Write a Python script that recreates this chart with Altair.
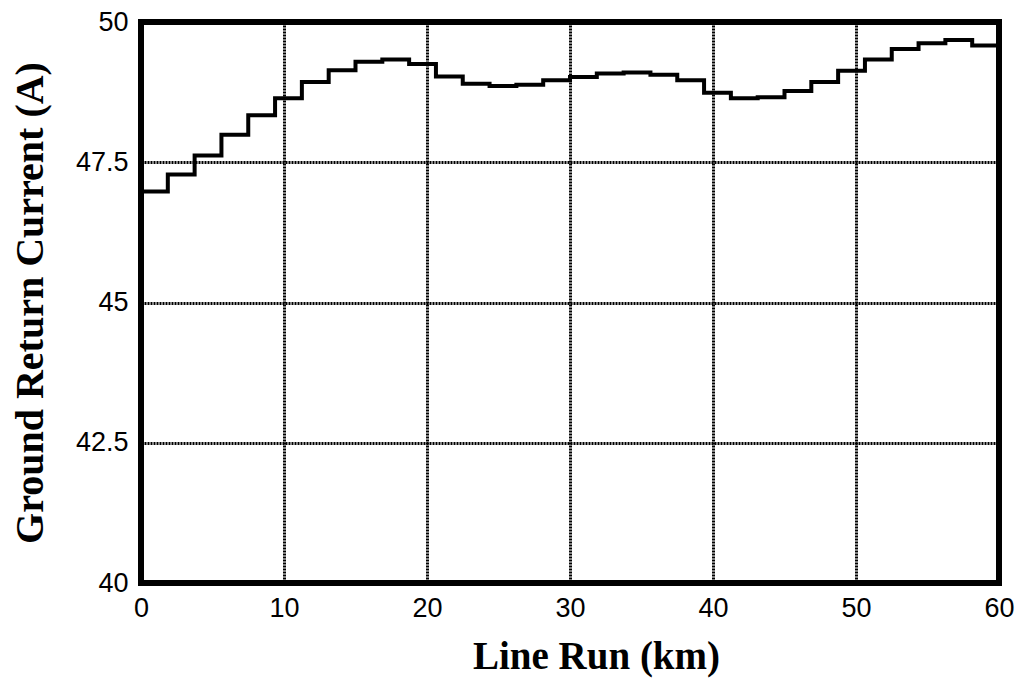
import altair as alt
import pandas as pd

# step start positions (km) and level of ground return current (A)
km = [0, 1.875, 3.75, 5.625, 7.5, 9.375, 11.25, 13.125, 15, 16.875, 18.75,
      20.625, 22.5, 24.375, 26.25, 28.125, 30, 31.875, 33.75, 35.625, 37.5,
      39.375, 41.25, 43.125, 45, 46.875, 48.75, 50.625, 52.5, 54.375, 56.25,
      58.125, 60]
current = [46.98, 47.28, 47.62, 47.99, 48.34, 48.64, 48.93, 49.14, 49.29, 49.33,
           49.25, 49.03, 48.90, 48.86, 48.88, 48.96, 49.02, 49.08, 49.10, 49.06,
           48.96, 48.74, 48.64, 48.66, 48.77, 48.93, 49.13, 49.33, 49.52, 49.62,
           49.68, 49.58, 49.58]

x_ticks = [0, 10, 20, 30, 40, 50, 60]
y_ticks = [40, 42.5, 45, 47.5, 50]

df = pd.DataFrame({"km": km, "current": current})

common = dict(grid=True, gridColor="black", gridWidth=3, gridDash=[2, 1], gridOpacity=1,
              domain=False, ticks=False, labelFont="Liberation Sans",
              labelFontSize=27, labelColor="black", labelFlush=False, labelOverlap=False,
              titleFont="Liberation Serif", titleFontWeight="bold",
              titleColor="black")

x_axis = alt.Axis(values=x_ticks, title="Line Run (km)", labelPadding=12,
                  titlePadding=16, titleX=455, titleFontSize=39, **common)
y_axis = alt.Axis(values=y_ticks, title="Ground Return Current (A)",
                  labelExpr="format(datum.value, '.1~f')",
                  labelPadding=13, titlePadding=25, titleFontSize=40, **common)

line = alt.Chart(df).mark_line(color="black", strokeWidth=4,
                               interpolate="step-after", clip=True).encode(
    x=alt.X("km:Q", scale=alt.Scale(domain=[0, 60], nice=False), axis=x_axis),
    y=alt.Y("current:Q", scale=alt.Scale(domain=[40, 50], nice=False, zero=False), axis=y_axis),
)

chart = line.properties(
    width=858, height=561,
    autosize=alt.AutoSizeParams(type="none"),
    padding={"left": 133, "top": 14, "right": 16, "bottom": 95},
    background="white",
).configure_view(stroke="black", strokeWidth=6)

chart.save("out.html", embed_options={"renderer": "svg", "actions": False})
